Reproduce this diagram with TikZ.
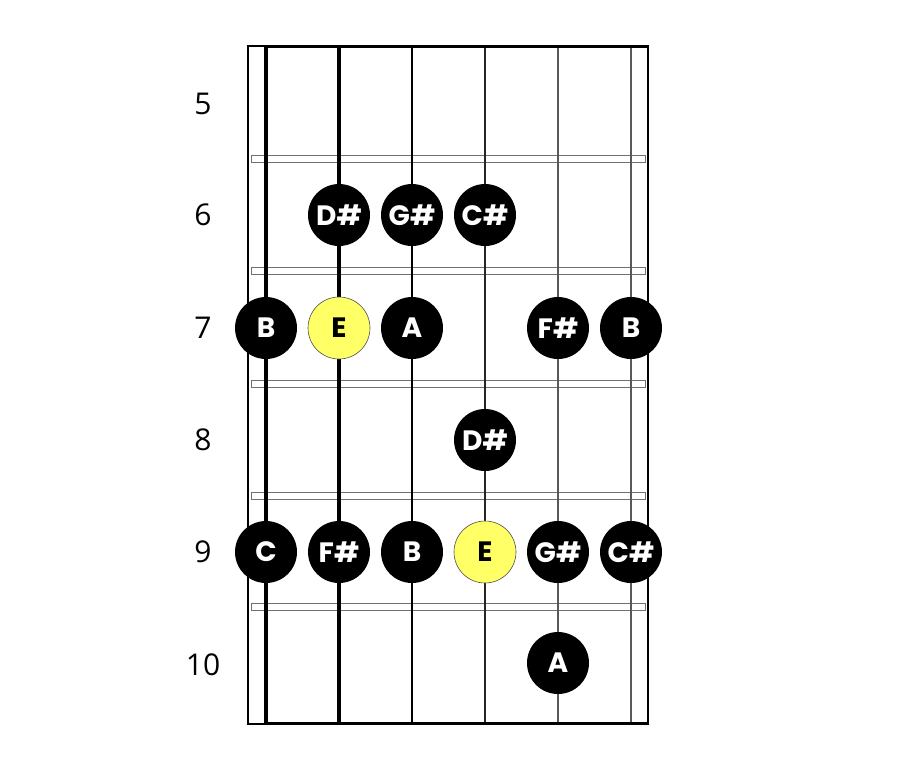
\documentclass[tikz,border=0pt]{standalone}
\usepackage{fontspec}
\setmainfont{Open Sans}
\newfontfamily\notefont{Poppins}[UprightFont=* Bold]
\definecolor{rootyellow}{HTML}{FFFF66}
\definecolor{fretgray}{HTML}{707070}
\begin{document}
\begin{tikzpicture}[x=1pt,y=-1pt,
  note/.style={circle,fill=black,minimum size=62pt,inner sep=0pt,text=white,font=\notefont\fontsize{28}{28}\selectfont},
  root/.style={note,fill=rootyellow,draw=black!70,line width=0.6pt,text=black},
  fretnum/.style={font=\fontsize{30}{30}\selectfont},
  fretbar/.style={draw=fretgray,line width=1pt,fill=white}]
\useasboundingbox (0,0) rectangle (900,782);
% fret bars
\foreach \y [count=\i] in {158.5,271,383.5,496,607}
  \draw[fretbar] (251,\y-3.5) rectangle (645,\y+3.5);
% strings
\draw[line width=3.2pt] (266,46) -- (266,724);
\draw[line width=3.2pt] (339,46) -- (339,724);
\draw[line width=2.8pt] (412,46) -- (412,724);
\draw[line width=2.2pt,black!85] (485,46) -- (485,724);
\draw[line width=2.2pt,black!65] (558,46) -- (558,724);
\draw[line width=1.3pt,black!65] (631,46) -- (631,724);
% outline
\draw[line width=2.2pt] (248,46) rectangle (648,724);
\draw[line width=3.2pt] (266,46.5) -- (648,46.5);
\draw[line width=3.2pt] (266,723.5) -- (648,723.5);
% fret numbers
\node[fretnum] (f5) at (203,104) {5};
\node[fretnum] (f6) at (203,215) {6};
\node[fretnum] (f7) at (203,328) {7};
\node[fretnum] (f8) at (203,440) {8};
\node[fretnum] (f9) at (203,552) {9};
\node[fretnum] (f10) at (203,665) {10};
% notes fret 6
\node[note] (n6a) at (339,215) {D\#};
\node[note] (n6b) at (412,215) {G\#};
\node[note] (n6c) at (485,215) {C\#};
% fret 7
\node[note] (n7a) at (266,328) {B};
\node[root] (n7b) at (339,328) {E};
\node[note] (n7c) at (412,328) {A};
\node[note] (n7d) at (558,328) {F\#};
\node[note] (n7e) at (631,328) {B};
% fret 8
\node[note] (n8a) at (485,440) {D\#};
% fret 9
\node[note] (n9a) at (266,552) {C};
\node[note] (n9b) at (339,552) {F\#};
\node[note] (n9c) at (412,552) {B};
\node[root] (n9d) at (485,552) {E};
\node[note] (n9e) at (558,552) {G\#};
\node[note] (n9f) at (631,552) {C\#};
% fret 10
\node[note] (n10a) at (558,663) {A};
\end{tikzpicture}
\end{document}
